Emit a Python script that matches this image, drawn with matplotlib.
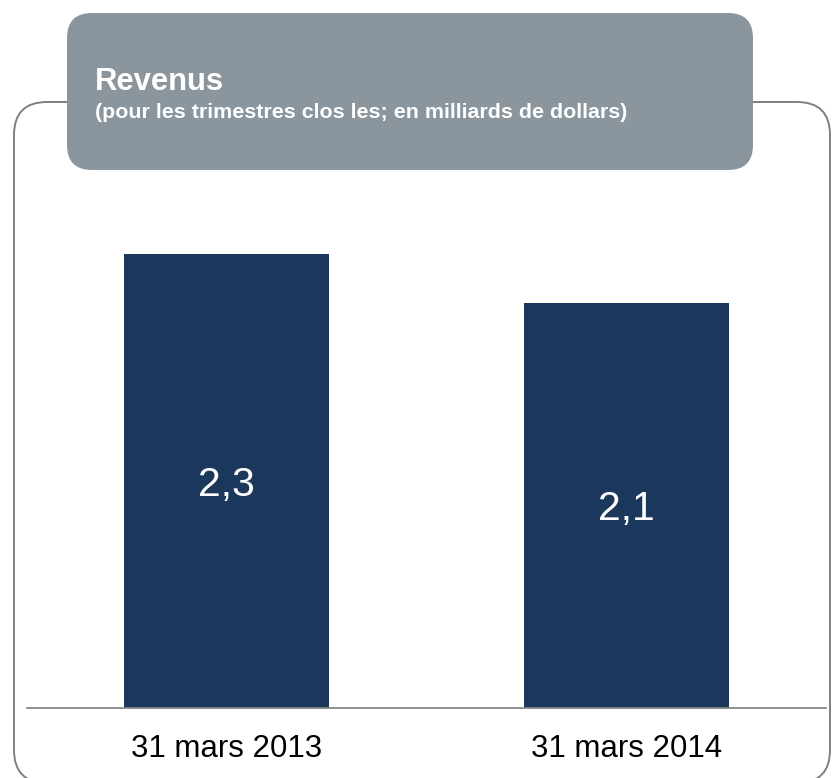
import matplotlib
matplotlib.use('Agg')
import matplotlib.pyplot as plt
from matplotlib.patches import FancyBboxPatch

plt.rcParams['font.family'] = ['Liberation Sans', 'DejaVu Sans']

# data
categories = ['31 mars 2013', '31 mars 2014']
values = [2.33, 2.08]
value_labels = ['2,3', '2,1']
title = 'Revenus'
subtitle = '(pour les trimestres clos les; en milliards de dollars)'

navy = '#1b375c'
header_gray = '#8a959e'
line_gray = '#7f7f7f'

W, H = 833, 778
fig = plt.figure(figsize=(W / 100, H / 100), dpi=100)

# background layer in pixel coordinates
bg = fig.add_axes([0, 0, 1, 1])
bg.set_xlim(0, W)
bg.set_ylim(H, 0)
bg.axis('off')

frame = FancyBboxPatch((14, 102), 816, 681, boxstyle='round,pad=0,rounding_size=33',
                       facecolor='white', edgecolor=line_gray, linewidth=1.4)
bg.add_patch(frame)
header = FancyBboxPatch((67, 13), 686, 157, boxstyle='round,pad=0,rounding_size=25',
                        facecolor=header_gray, edgecolor='none')
bg.add_patch(header)
bg.text(95, 90, title, color='white', fontsize=22.3, fontweight='bold', va='baseline')
bg.text(95, 118, subtitle, color='white', fontsize=15.4, fontweight='bold', va='baseline')

# bar chart
ax = fig.add_axes([27 / W, (H - 708) / H, 799 / W, 508 / H])
ax.patch.set_alpha(0)
x = range(len(categories))
bars = ax.bar(x, values, width=0.513, color=navy)
ax.set_xlim(-0.5, 1.5)
ax.set_ylim(0, 508 / 194.85)
for s in ['top', 'left', 'right']:
    ax.spines[s].set_visible(False)
ax.spines['bottom'].set_color('#888888')
ax.spines['bottom'].set_linewidth(1.3)
ax.set_xticks([])
ax.set_yticks([])

for i, (v, lab) in enumerate(zip(values, value_labels)):
    ax.annotate(lab, (i, v / 2), xytext=(0, -10.8), textcoords='offset points',
                ha='center', va='baseline', color='white', fontsize=29.5)
    ax.annotate(categories[i], (i, 0), xycoords=('data', 'axes fraction'),
                xytext=(0, -35.3), textcoords='offset points',
                ha='center', va='baseline', color='black', fontsize=22.5)

fig.savefig('out.png', dpi=100)
